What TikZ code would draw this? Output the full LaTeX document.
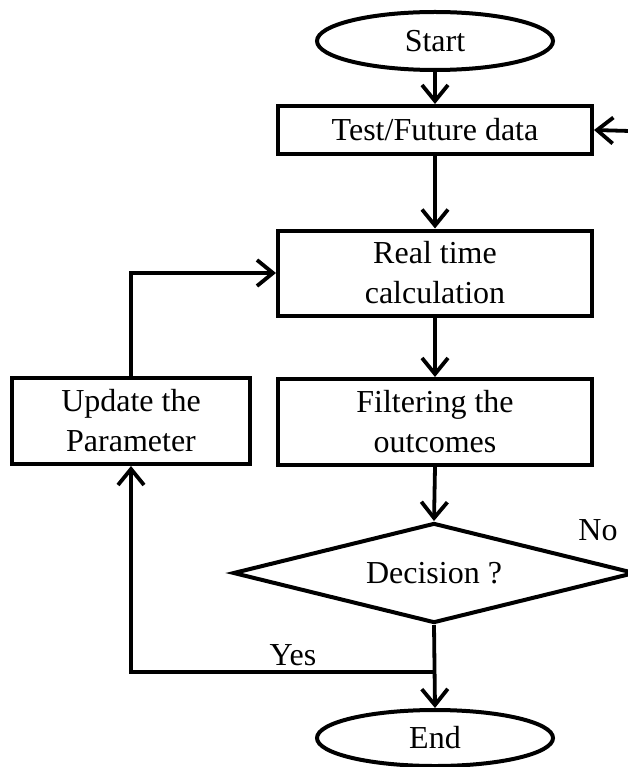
\documentclass[tikz,border=0pt]{standalone}
\usepackage{fontspec}
\setmainfont{Liberation Serif}
\usetikzlibrary{shapes.geometric,arrows.meta}
\begin{document}
\begin{tikzpicture}[x=1pt,y=-1pt,
  every node/.style={font=\fontsize{32}{40}\selectfont, align=center},
  terminal/.style={ellipse, draw, line width=4pt, minimum width=236pt, minimum height=58pt, inner sep=0pt},
  procbox/.style={rectangle, draw, line width=4pt, inner sep=0pt},
  decbox/.style={diamond, draw, line width=4pt, minimum width=402pt, minimum height=100pt, inner sep=0pt, shape aspect=4},
  arr/.style={line width=3.8pt, -{Straight Barb[length=16pt,width=26pt,line width=3.8pt]}}]
\useasboundingbox (0,0) rectangle (627,767);

% nodes
\node[terminal] (start) at (435,41) {Start};
\node[procbox, minimum width=314pt, minimum height=48pt] (test) at (435,130) {Test/Future data};
\node[procbox, minimum width=314pt, minimum height=85pt] (real) at (435,273) {Real time\\calculation};
\node[procbox, minimum width=314pt, minimum height=86pt] (filt) at (435,422) {Filtering the\\outcomes};
\node[procbox, minimum width=238pt, minimum height=86pt] (upd) at (131,421) {Update the\\Parameter};
\node[decbox] (dec) at (434,573) {Decision ?};
\node[terminal, minimum height=56pt] (stop) at (435,738) {End};

\node (no) at (598,530) {No};
\node (yes) at (293,655) {Yes};

\coordinate (feed) at (630,131);
\coordinate (junc) at (434,672);

% connectors
\draw[arr] (start.south) -- (test.north);
\draw[arr] (feed) -- (test.east);
\draw[arr] (test.south) -- (real.north);
\draw[arr] (real.south) -- (filt.north);
\draw[arr] (filt.south) -- (dec.north);
\draw[arr] (dec.south) -- (stop.north);
\draw[arr] (junc) -| (upd.south);
\draw[arr] (upd.north) |- (real.west);
\end{tikzpicture}
\end{document}
